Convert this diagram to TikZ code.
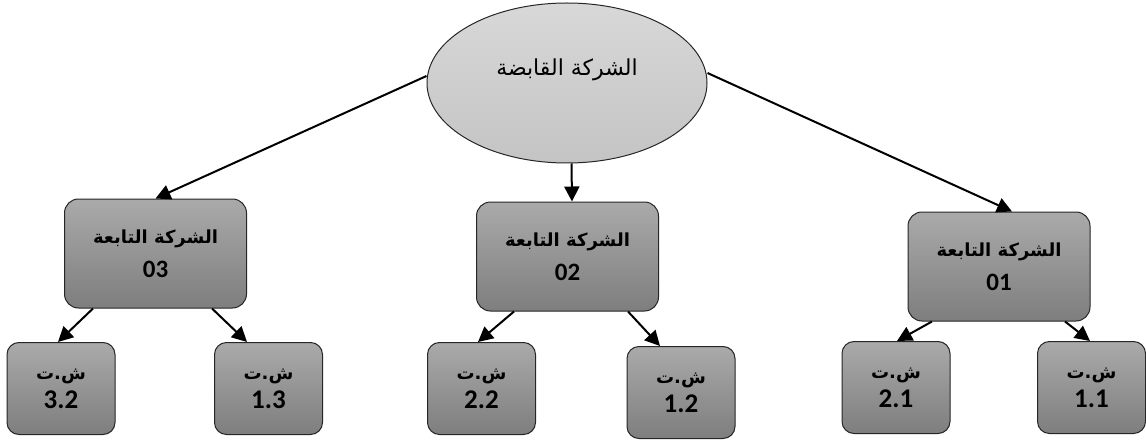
\documentclass[tikz,border=0pt]{standalone}
\usepackage{fontspec}
\usetikzlibrary{shapes.geometric,arrows.meta}
\TeXXeTstate=1
\newfontfamily\arabicfont[Script=Arabic]{DejaVu Sans}
\newfontfamily\numfont{Carlito}
\definecolor{boxtop}{RGB}{170,170,170}
\definecolor{boxbot}{RGB}{126,126,126}
\definecolor{elltop}{RGB}{216,216,216}
\definecolor{ellbot}{RGB}{196,196,196}
\newcommand{\bigar}{\arabicfont\bfseries\fontsize{18}{22}\selectfont}
\newcommand{\bignum}{\numfont\bfseries\fontsize{25}{28}\selectfont}
\newcommand{\smar}{\arabicfont\bfseries\fontsize{18}{22}\selectfont}
\newcommand{\smnum}{\numfont\bfseries\fontsize{27}{30}\selectfont}
\begin{document}
\begin{tikzpicture}[x=1pt,y=-1pt,
  bigbox/.style={draw=black!85, line width=1pt, rounded corners=14pt,
    top color=boxtop, bottom color=boxbot, minimum width=182pt,
    minimum height=109pt, align=center, inner sep=0pt},
  smallbox/.style={draw=black!85, line width=1pt, rounded corners=12pt,
    top color=boxtop, bottom color=boxbot, minimum width=108pt,
    minimum height=92pt, align=center, inner sep=0pt},
  arr/.style={line width=2pt, -{Triangle[length=15pt,width=15pt]}}]
\useasboundingbox (0,0) rectangle (1146,441);
% holding company
\node[ellipse, draw=black!85, line width=1pt, top color=elltop, bottom color=ellbot,
  minimum width=280pt, minimum height=160pt, inner sep=0pt] (h) at (567,83) {};
\node[font=\arabicfont\fontsize{22}{26}\selectfont] (ht) at (567,70) {\beginR الشركة القابضة\endR};
% subsidiaries
\node[bigbox] (b03) at (155.5,253.5) {\bigar\beginR الشركة التابعة\endR\\[12pt]\bignum 03};
\node[bigbox] (b02) at (567.5,256.5) {\bigar\beginR الشركة التابعة\endR\\[12pt]\bignum 02};
\node[bigbox] (b01) at (999,266.5) {\bigar\beginR الشركة التابعة\endR\\[12pt]\bignum 01};
% small boxes
\node[smallbox] (s32) at (61,388.5) {\smar\beginR ش.ت\endR\\[6pt]\smnum 3.2};
\node[smallbox] (s13) at (268.5,388.5) {\smar\beginR ش.ت\endR\\[6pt]\smnum 1.3};
\node[smallbox] (s22) at (481.5,388.5) {\smar\beginR ش.ت\endR\\[6pt]\smnum 2.2};
\node[smallbox] (s12) at (681,392.5) {\smar\beginR ش.ت\endR\\[6pt]\smnum 1.2};
\node[smallbox] (s21) at (896,387.5) {\smar\beginR ش.ت\endR\\[6pt]\smnum 2.1};
\node[smallbox] (s11) at (1091.5,387.5) {\smar\beginR ش.ت\endR\\[6pt]\smnum 1.1};
% arrows from holding
\draw[arr] ([yshift=7pt]h.west) -- (b03.north);
\draw[arr] ([xshift=4.5pt]h.south) -- ([xshift=4.5pt]b02.north);
\draw[arr] ([yshift=10pt]h.east) -- ([xshift=13pt]b01.north);
% arrows to small boxes
\draw[arr] ([xshift=-62.5pt]b03.south) -- ([xshift=-3pt]s32.north);
\draw[arr] ([xshift=56.5pt]b03.south) -- ([xshift=-21.5pt]s13.north);
\draw[arr] ([xshift=-53.5pt]b02.south) -- ([xshift=-3.5pt]s22.north);
\draw[arr] ([xshift=60.5pt]b02.south) -- ([xshift=-21pt]s12.north);
\draw[arr] ([xshift=-67pt]b01.south) -- ([xshift=1pt]s21.north);
\draw[arr] ([xshift=66pt]b01.south) -- ([xshift=-1.5pt]s11.north);
\end{tikzpicture}
\end{document}
